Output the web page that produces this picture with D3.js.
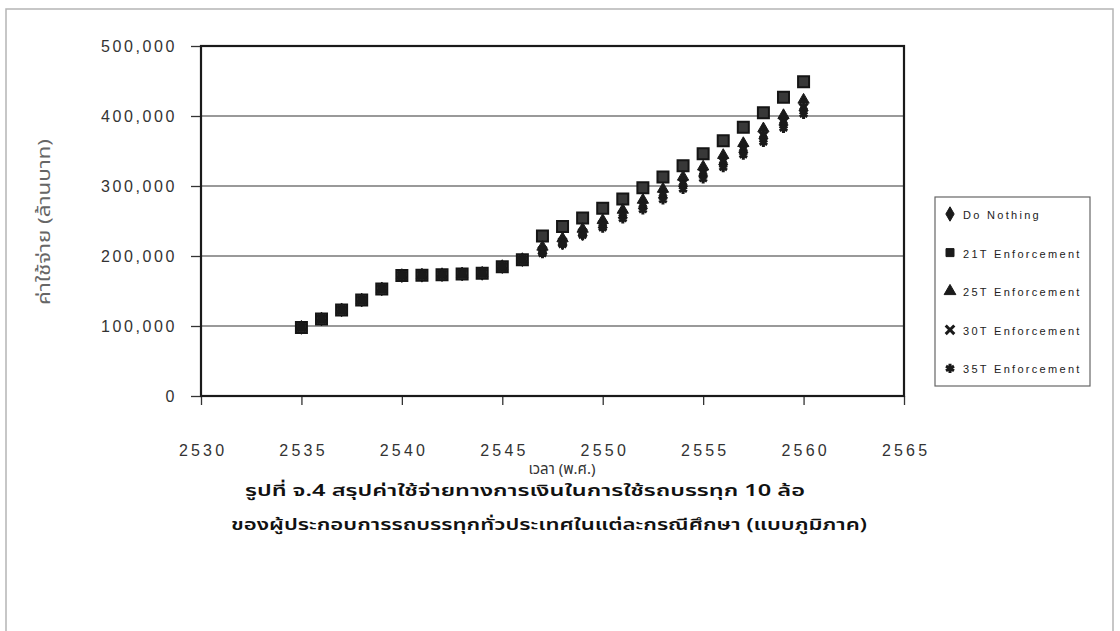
<!DOCTYPE html>
<html><head><meta charset="utf-8">
<script src="https://cdn.jsdelivr.net/npm/d3@7"></script>
<style>
html,body{margin:0;padding:0;background:#fff;}
svg{display:block;font-family:Arial,"Liberation Sans",sans-serif;}
.thai{font-family:"Noto Sans Thai","Noto Sans Thai UI","Noto Sans","DejaVu Sans",sans-serif;}
</style>
</head><body>
<svg id="chart" width="1120" height="631"></svg>
<script>
// ---------- data ----------
const years = [2535,2536,2537,2538,2539,2540,2541,2542,2543,2544,2545,2546,2547,2548,2549,2550,2551,2552,2553,2554,2555,2556,2557,2558,2559,2560];
const doNothing = [98000,110000,123000,137000,153000,172000,172500,173300,174300,175200,184800,194800,207000,219000,232000,244000,258000,271000,286000,302000,317000,333000,351000,370000,390000,410000];
const t21 = [98000,110000,123000,137000,153000,172000,172500,173300,174300,175200,184800,194800,228600,242000,254300,268100,281400,297500,312800,328800,346200,364700,383900,404700,426700,449000];
const t25 = [98000,110000,123000,137000,153000,172000,172500,173300,174300,175200,184800,194800,213000,225000,238600,251000,265700,280000,295700,313000,327600,344000,361000,382000,401000,423000];
const t30 = [98000,110000,123000,137000,153000,172000,172500,173300,174300,175200,184800,194800,208000,220000,233500,245000,259000,272500,287500,304000,318500,335000,352500,372000,391500,412000];
const t35 = [98000,110000,123000,137000,153000,172000,172500,173300,174300,175200,184800,194800,203000,215700,229000,239500,252900,265700,280000,295000,310000,326000,344000,362000,382000,402000];
const seriesNames = ["Do Nothing","21T Enforcement","25T Enforcement","30T Enforcement","35T Enforcement"];
const yTicks = [0,100000,200000,300000,400000,500000];
const xTicks = [2530,2535,2540,2545,2550,2555,2560,2565];
const yTitle = "ค่าใช้จ่าย (ล้านบาท)";
const xTitle = "เวลา (พ.ศ.)";
const caption1 = "รูปที่ จ.4  สรุปค่าใช้จ่ายทางการเงินในการใช้รถบรรทุก 10 ล้อ";
const caption2 = "ของผู้ประกอบการรถบรรทุกทั่วประเทศในแต่ละกรณีศึกษา (แบบภูมิภาค)";

// ---------- layout ----------
const svg = d3.select("#chart");
const L = 201, R = 904, T = 46, B = 396;
const x = d3.scaleLinear().domain([2530,2565]).range([L,R]);
const y = d3.scaleLinear().domain([0,500000]).range([B,T]);

// outer frame
svg.append("path").attr("d","M6,631 L6,9 L1113,9 L1113,631")
  .attr("fill","none").attr("stroke","#b5b5b5").attr("stroke-width",1.5);

// gridlines
svg.append("g").selectAll("line").data(yTicks.filter(d=>d>0 && d<500000)).join("line")
  .attr("x1",L).attr("x2",R).attr("y1",d=>y(d)).attr("y2",d=>y(d))
  .attr("stroke","#777").attr("stroke-width",1.3);

// axes
const yAxis = d3.axisLeft(y).tickValues(yTicks).tickSize(10).tickPadding(8)
  .tickFormat(d3.format(","));
const gy = svg.append("g").attr("transform",`translate(${L},0)`).call(yAxis);
gy.select(".domain").remove();
gy.selectAll(".tick line").attr("stroke","#333").attr("stroke-width",1.3);
gy.selectAll(".tick text").attr("font-size",16).attr("fill","#333")
  .attr("letter-spacing","2.6px").attr("x",-24).attr("font-family","Arial,'Liberation Sans',sans-serif");

const xAxis = d3.axisBottom(x).tickValues(xTicks).tickSize(9).tickPadding(40)
  .tickFormat(d3.format("d"));
const gx = svg.append("g").attr("transform",`translate(0,${B})`).call(xAxis);
gx.select(".domain").remove();
gx.selectAll(".tick line").attr("stroke","#333").attr("stroke-width",1.3);
gx.selectAll(".tick text").attr("font-size",16).attr("fill","#333")
  .attr("letter-spacing","3.2px").attr("font-family","Arial,'Liberation Sans',sans-serif")
  .attr("dx","1.6px");

// plot frame
svg.append("rect").attr("x",L).attr("y",T).attr("width",R-L).attr("height",B-T)
  .attr("fill","none").attr("stroke","#1a1a1a").attr("stroke-width",2.2);

// ---------- markers ----------
const sym = {
  diamond: d3.symbol().type(d3.symbolDiamond).size(55),
  square: d3.symbol().type(d3.symbolSquare).size(121),
  triangle: d3.symbol().type(d3.symbolTriangle).size(55),
  times: d3.symbol().type(d3.symbolTimes).size(45),
  star: d3.symbol().type(d3.symbolAsterisk).size(55)
};
const series = [
  {name:seriesNames[0], vals:doNothing, shape:"diamond"},
  {name:seriesNames[1], vals:t21, shape:"square"},
  {name:seriesNames[2], vals:t25, shape:"triangle"},
  {name:seriesNames[3], vals:t30, shape:"times"},
  {name:seriesNames[4], vals:t35, shape:"star"}
];
function styleMarker(sel, shape, legend){
  if(shape==="times" || shape==="star"){
    sel.attr("fill","none").attr("stroke","#1a1a1a").attr("stroke-width",3);
  } else if(shape==="square" && !legend){
    sel.attr("fill","#383838").attr("stroke","#151515").attr("stroke-width",2);
  } else {
    sel.attr("fill","#1a1a1a").attr("stroke","#1a1a1a").attr("stroke-width",1);
  }
}
series.forEach(s=>{
  const g = svg.append("g");
  const pts = years.map((yr,i)=>({yr, v:s.vals[i]}));
  const m = g.selectAll("path").data(pts).join("path")
    .attr("d", sym[s.shape]())
    .attr("transform", d=>`translate(${x(d.yr)},${y(d.v)})`);
  styleMarker(m, s.shape, false);
});

// ---------- legend ----------
const lg = svg.append("g");
lg.append("rect").attr("x",935).attr("y",197).attr("width",155).attr("height",189)
  .attr("fill","#fff").attr("stroke","#666").attr("stroke-width",1.2);
const legendSym = {
  diamond: d3.symbol().type(d3.symbolDiamond).size(60),
  square: d3.symbol().type(d3.symbolSquare).size(64),
  triangle: d3.symbol().type(d3.symbolTriangle).size(60),
  times: d3.symbol().type(d3.symbolTimes).size(50),
  star: d3.symbol().type(d3.symbolAsterisk).size(60)
};
series.forEach((s,i)=>{
  const cy = 214 + i*38.6;
  const m = lg.append("path").attr("d", legendSym[s.shape]()).attr("transform",`translate(950,${cy})`);
  styleMarker(m, s.shape, true);
  lg.append("text").attr("x",963).attr("y",cy+5).attr("font-size",11).attr("fill","#222")
    .attr("letter-spacing","2.3px").text(s.name);
});

// ---------- titles ----------
svg.append("text").attr("class","thai").attr("transform","translate(50,222) rotate(-90)")
  .attr("text-anchor","middle").attr("font-size",17).attr("fill","#666")
  .attr("textLength",166).attr("lengthAdjust","spacingAndGlyphs").text(yTitle);
svg.append("text").attr("class","thai").attr("x",562).attr("y",474)
  .attr("text-anchor","middle").attr("font-size",15).attr("fill","#333").text(xTitle);
svg.append("text").attr("class","thai").attr("x",245).attr("y",496)
  .attr("font-size",16).attr("fill","#111").attr("font-weight","600")
  .attr("textLength",560).attr("lengthAdjust","spacingAndGlyphs").text(caption1);
svg.append("text").attr("class","thai").attr("x",231).attr("y",530)
  .attr("font-size",16).attr("fill","#111").attr("font-weight","600")
  .attr("textLength",636).attr("lengthAdjust","spacingAndGlyphs").text(caption2);
</script>
</body></html>
